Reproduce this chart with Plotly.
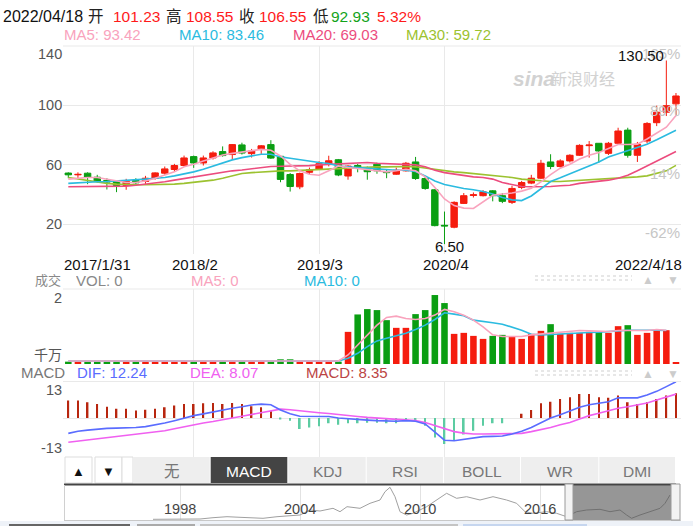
import plotly.graph_objects as go

W, H = 693, 526
FONT = "Liberation Sans, Arial, Noto Sans CJK SC, sans-serif"


def px(x):
    return x / W


def py(y):
    return 1 - y / H


# ---------------- data ----------------
months = [f"{y}/{m}" for y in range(2017, 2023) for m in range(1, 13)][:64]

opens = [54.5, 53.3, 54.4, 51.7, 49.5, 49.0, 46.1, 49.5, 48.8, 51.0,
         54.4, 56.9, 59.6, 65.6, 61.3, 64.7, 69.0, 67.0, 73.5, 67.6,
         70.8, 73.7, 65.8, 53.5, 45.2, 55.0, 57.2, 60.6, 63.5, 52.5,
         59.6, 56.6, 60.5, 55.5, 53.7, 56.0, 62.0, 50.8, 43.2, 19.2,
         17.9, 34.0, 39.4, 39.2, 42.5, 39.2, 34.7, 44.8, 47.7, 51.0,
         62.0, 58.9, 62.7, 66.5, 73.0, 74.6, 67.8, 74.6, 83.5, 66.5,
         76.1, 88.5, 95.6, 101.23]
closes = [53.3, 53.6, 51.7, 49.0, 48.4, 46.1, 49.0, 47.9, 51.0, 54.6,
          57.3, 59.6, 64.7, 61.3, 64.7, 68.1, 66.3, 73.7, 68.0, 69.4,
          72.9, 64.6, 50.2, 45.4, 54.2, 56.8, 60.8, 62.8, 53.2, 59.2,
          58.2, 55.4, 56.0, 54.8, 56.4, 61.1, 50.8, 44.1, 19.0, 18.8,
          34.7, 39.2, 39.8, 41.8, 39.2, 35.4, 44.1, 48.1, 51.0, 61.1,
          58.9, 62.7, 66.5, 73.2, 73.4, 69.4, 74.6, 82.9, 66.5, 73.9,
          88.0, 95.6, 100.0, 106.55]
highs = [55.0, 55.0, 55.0, 53.3, 51.0, 49.5, 50.6, 51.0, 52.6, 55.0,
         58.9, 60.7, 66.3, 66.3, 66.3, 69.2, 72.5, 74.1, 75.0, 70.8,
         73.4, 76.7, 66.3, 54.5, 54.8, 58.2, 62.5, 66.2, 64.0, 59.8,
         60.7, 58.9, 61.5, 57.0, 58.2, 62.0, 65.4, 52.2, 43.6, 28.5,
         35.4, 41.0, 41.4, 43.0, 43.0, 41.0, 45.9, 49.2, 53.3, 63.4,
         67.2, 63.8, 67.2, 73.9, 76.1, 74.6, 75.5, 85.1, 85.1, 75.5,
         88.9, 100.0, 130.5, 108.55]
lows = [51.0, 51.0, 47.0, 48.0, 43.4, 41.6, 43.2, 46.0, 47.2, 50.0,
        53.3, 55.7, 59.1, 58.0, 59.6, 63.6, 65.6, 63.4, 67.0, 65.0,
        67.4, 64.0, 48.3, 42.0, 43.6, 53.5, 56.6, 59.0, 52.4, 50.0,
        55.0, 50.0, 54.0, 51.0, 53.3, 55.5, 49.9, 43.2, 18.5, 6.5,
        17.2, 33.6, 38.0, 38.7, 35.4, 34.2, 33.6, 43.6, 47.0, 50.4,
        57.1, 58.2, 61.6, 66.1, 64.9, 61.6, 66.7, 73.9, 64.9, 62.0,
        74.6, 86.2, 93.0, 92.93]

ma5 = [50.4, 51.0, 51.5, 51.5, 50.4, 49.2, 48.1, 48.1, 49.2, 51.0,
       53.0, 55.3, 58.7, 60.4, 62.7, 64.9, 66.7, 67.8, 68.7, 69.9,
       70.5, 69.9, 66.1, 60.4, 56.0, 53.7, 53.0, 56.0, 59.3, 58.2,
       57.5, 57.1, 56.4, 55.3, 56.0, 57.1, 56.0, 51.9, 44.8, 37.0,
       32.5, 30.8, 30.6, 35.0, 39.5, 40.3, 41.0, 42.3, 44.3, 48.5,
       53.5, 57.8, 60.5, 64.0, 66.5, 68.3, 70.8, 73.8, 73.8, 74.0,
       77.5, 81.5, 85.5, 93.42]
ma10 = [47.5, 47.7, 48.1, 48.6, 48.8, 49.2, 49.2, 49.7, 50.4, 51.0,
        51.5, 52.6, 53.7, 55.3, 57.1, 59.3, 61.6, 63.4, 64.9, 66.1,
        67.2, 67.2, 65.4, 64.5, 63.4, 62.7, 61.6, 60.9, 59.3, 58.7,
        58.2, 57.5, 57.3, 56.6, 56.4, 56.4, 55.5, 52.6, 49.2, 46.8,
        45.2, 44.1, 43.2, 42.1, 40.3, 38.0, 36.4, 35.9, 39.0, 44.0,
        48.8, 51.3, 54.0, 56.8, 59.2, 62.0, 65.3, 67.5, 69.5, 71.5,
        74.0, 77.0, 80.0, 83.46]
ma20 = [45.2, 45.2, 45.2, 45.2, 45.4, 45.4, 45.7, 46.3, 47.0, 47.7,
        48.6, 49.7, 50.8, 51.5, 52.6, 53.7, 54.8, 56.0, 56.6, 57.5,
        58.2, 58.9, 59.1, 59.1, 59.3, 59.5, 60.0, 60.4, 60.9, 61.3,
        61.6, 61.6, 61.1, 60.9, 60.4, 60.4, 60.0, 58.7, 56.4, 54.8,
        53.7, 52.6, 51.9, 51.5, 50.4, 48.1, 46.6, 45.4, 45.2, 45.2,
        45.4, 45.9, 46.3, 47.5, 48.1, 48.8, 49.7, 51.0, 53.0, 56.0,
        59.3, 62.2, 65.4, 69.03]
ma30 = [51.5, 50.4, 49.2, 48.1, 47.5, 47.0, 46.6, 46.6, 46.6, 46.6,
        47.0, 47.0, 47.5, 48.1, 48.6, 49.7, 51.0, 52.6, 54.2, 54.8,
        55.3, 55.5, 56.0, 56.0, 56.4, 56.6, 56.9, 57.1, 57.5, 57.8,
        58.2, 58.7, 58.7, 58.7, 58.9, 58.9, 58.7, 57.8, 57.1, 56.0,
        55.3, 54.8, 54.2, 53.7, 53.0, 52.6, 51.5, 50.4, 49.7, 49.2,
        48.8, 48.8, 49.2, 49.7, 49.7, 50.4, 50.8, 51.0, 51.5, 51.9,
        52.6, 54.2, 56.0, 59.72]

# volume, unit: 千万
volumes = [0.07, 0.07, 0.07, 0.07, 0.07, 0.07, 0.07, 0.07, 0.07, 0.07,
           0.07, 0.07, 0.07, 0.07, 0.07, 0.07, 0.07, 0.07, 0.07, 0.07,
           0.07, 0.07, 0.14, 0.14, 0.07, 0.07, 0.07, 0.07, 0.07, 0.96,
           1.48, 1.64, 1.61, 1.31, 1.08, 1.08, 1.49, 1.61, 2.06, 1.82,
           0.90, 0.93, 0.84, 0.75, 0.84, 0.87, 0.81, 0.75, 0.90, 0.99,
           1.19, 0.90, 0.93, 0.93, 0.96, 0.96, 0.93, 1.13, 1.16, 0.87,
           0.93, 0.99, 1.01, 0.06]
vol_ma5 = [0.09, 0.09, 0.09, 0.09, 0.09, 0.09, 0.09, 0.09, 0.09, 0.09,
           0.09, 0.09, 0.09, 0.09, 0.09, 0.09, 0.09, 0.09, 0.09, 0.09,
           0.09, 0.09, 0.10, 0.10, 0.10, 0.10, 0.10, 0.09, 0.09, 0.27,
           0.57, 0.87, 1.16, 1.39, 1.43, 1.36, 1.33, 1.36, 1.46, 1.63,
           1.56, 1.46, 1.31, 1.11, 0.87, 0.82, 0.82, 0.82, 0.87, 0.90,
           0.92, 0.94, 0.99, 1.00, 0.99, 0.97, 0.97, 1.00, 1.01, 1.00,
           1.00, 1.03, 1.01, None]
vol_ma10 = [0.09, 0.09, 0.09, 0.09, 0.09, 0.09, 0.09, 0.09, 0.09, 0.09,
            0.09, 0.09, 0.09, 0.09, 0.09, 0.09, 0.09, 0.09, 0.09, 0.09,
            0.09, 0.09, 0.09, 0.10, 0.10, 0.10, 0.10, 0.10, 0.09, 0.17,
            0.32, 0.52, 0.69, 0.77, 0.84, 0.92, 1.03, 1.16, 1.33, 1.53,
            1.49, 1.44, 1.31, 1.26, 1.23, 1.19, 1.11, 1.01, 0.89, 0.87,
            0.88, 0.90, 0.92, 0.93, 0.94, 0.95, 0.96, 0.99, 1.01, 1.00,
            1.01, 1.01, 1.00, None]

macd_hist = [5.9, 5.9, 5.3, 4.7, 3.8, 3.1, 3.1, 2.5, 2.8, 3.1,
             3.6, 4.2, 4.7, 4.7, 5.0, 5.1, 4.7, 5.1, 4.7, 4.0,
             3.6, 2.3, -0.3, -0.9, -3.7, -3.2, -2.8, -1.8, -2.3, -1.8,
             -1.8, -1.6, -1.6, -1.8, -1.8, -0.9, -0.9, -2.6, -6.6, -8.8,
             -7.5, -5.6, -4.3, -2.6, -1.8, -1.8, 0.0, 1.4, 2.7, 5.0,
             5.5, 6.4, 7.0, 8.1, 8.1, 7.0, 6.8, 7.6, 5.3, 4.7,
             5.3, 6.4, 7.6, 8.35]
dif = [-5.2, -4.5, -4.1, -3.7, -3.5, -3.4, -3.4, -3.2, -2.9, -2.4,
       -1.7, -0.9, 0.0, 0.8, 1.4, 2.1, 2.7, 3.3, 3.8, 4.4,
       4.7, 4.5, 2.7, 1.4, 0.6, 0.5, 0.5, 0.5, 0.0, -0.3,
       -0.6, -0.7, -0.9, -1.1, -1.1, -0.9, -1.1, -2.0, -4.6, -7.5,
       -7.7, -7.3, -6.9, -6.3, -6.2, -6.1, -5.4, -4.5, -3.2, -1.5,
       0.0, 1.1, 2.3, 3.6, 4.5, 5.0, 5.5, 6.8, 6.7, 6.8,
       7.8, 9.0, 10.6, 12.24]
dea = [-8.2, -7.8, -7.5, -7.0, -6.6, -6.2, -5.8, -5.5, -5.2, -4.8,
       -4.3, -3.6, -2.9, -2.3, -1.7, -1.2, -0.7, 0.0, 0.6, 1.2,
       1.9, 2.6, 3.0, 2.8, 2.4, 2.1, 1.8, 1.5, 1.1, 0.8,
       0.5, 0.2, 0.0, -0.3, -0.6, -0.7, -0.9, -1.5, -2.6, -3.7,
       -4.6, -5.1, -5.4, -5.4, -5.4, -5.4, -5.4, -5.2, -4.6, -4.0,
       -3.2, -2.3, -1.5, -0.3, 0.8, 1.6, 2.5, 3.3, 3.8, 4.4,
       5.1, 6.1, 7.2, 8.07]

# overview (navigator) history line
nav_years = [1996.65, 1997.75, 1999.0, 1999.65, 2000.35, 2001.0, 2002.15, 2002.85,
             2003.35, 2004.0, 2004.5, 2005.0, 2005.65, 2006.0, 2006.35, 2007.0,
             2007.5, 2008.0, 2008.25, 2008.5, 2008.75, 2009.0, 2009.33, 2009.65,
             2010.33, 2011.0, 2011.33, 2011.83, 2012.33, 2013.0, 2013.65, 2014.33,
             2014.83, 2015.25, 2015.65, 2016.33, 2016.83, 2017.33, 2017.83, 2018.33,
             2019.0, 2019.5, 2020.0, 2020.33, 2020.58, 2021.0, 2021.5, 2022.0,
             2022.25, 2022.5]
nav_vals = [0.7, 0.5, 1.0, 2.3, 3.3, 2.7, 1.7, 3.3, 4.0, 5.0,
            10.0, 9.0, 11.7, 8.3, 13.3, 11.7, 16.7, 20.0, 28.3, 32.7,
            23.3, 8.3, 5.0, 6.7, 13.3, 21.7, 26.7, 21.7, 23.3, 20.0,
            23.3, 20.0, 16.7, 8.3, 6.7, 8.3, 6.7, 3.3, 8.3, 10.0,
            10.7, 8.3, 10.0, 5.0, 1.7, 5.0, 8.3, 11.7, 16.7, 25.0]
nav_ticks = [1998, 2004, 2010, 2016]

price_ticks = [140, 100, 60, 20]
pct_labels = ["165%", "89%", "14%", "-62%"]
date_labels = ["2017/1/31", "2018/2", "2019/3", "2020/4", "2022/4/18"]
grid_months = ["2018/2", "2019/3", "2020/4"]
tabs = ["无", "MACD", "KDJ", "RSI", "BOLL", "WR", "DMI"]

# ---------------- styles ----------------
RED = "#f51c0e"
GREEN = "#0a9e12"
C_MA5 = "#f9a3bd"
C_MA10 = "#2bbbe0"
C_MA20 = "#ec4c7e"
C_MA30 = "#9cc230"
C_DIF = "#5a6cff"
C_DEA = "#f060f0"
C_POS = "#b8260f"
C_NEG = "#5ccca2"
GRID = "#e9e9e9"

fig = go.Figure()

# price panel
fig.add_trace(go.Candlestick(
    x=months, open=opens, high=highs, low=lows, close=closes,
    increasing=dict(line=dict(color=RED, width=1), fillcolor=RED),
    decreasing=dict(line=dict(color=GREEN, width=1), fillcolor=GREEN),
    whiskerwidth=0, xaxis="x", yaxis="y", hoverinfo="skip"))
for series, col in [(ma30, C_MA30), (ma20, C_MA20), (ma10, C_MA10), (ma5, C_MA5)]:
    fig.add_trace(go.Scatter(x=months, y=series, mode="lines",
                             line=dict(color=col, width=1.6),
                             xaxis="x", yaxis="y", hoverinfo="skip"))

# volume panel
vol_colors = [RED if c >= o else GREEN for o, c in zip(opens, closes)]
fig.add_trace(go.Bar(x=months, y=volumes, width=0.68,
                     marker=dict(color=vol_colors, line=dict(width=0)),
                     xaxis="x2", yaxis="y2", hoverinfo="skip"))
for series, col in [(vol_ma10, C_MA10), (vol_ma5, C_MA5)]:
    fig.add_trace(go.Scatter(x=months, y=series, mode="lines",
                             line=dict(color=col, width=1.6),
                             xaxis="x2", yaxis="y2", hoverinfo="skip"))

# MACD panel
macd_colors = [C_POS if v >= 0 else C_NEG for v in macd_hist]
fig.add_trace(go.Bar(x=months, y=macd_hist, width=0.17,
                     marker=dict(color=macd_colors, line=dict(width=0)),
                     xaxis="x3", yaxis="y3", hoverinfo="skip"))
fig.add_trace(go.Scatter(x=months, y=dea, mode="lines", line=dict(color=C_DEA, width=1.6),
                         xaxis="x3", yaxis="y3", hoverinfo="skip"))
fig.add_trace(go.Scatter(x=months, y=dif, mode="lines", line=dict(color=C_DIF, width=1.6),
                         xaxis="x3", yaxis="y3", hoverinfo="skip"))

# navigator
fig.add_trace(go.Scatter(x=nav_years, y=nav_vals, mode="lines",
                         line=dict(color="#a0a0a0", width=1),
                         xaxis="x4", yaxis="y4", hoverinfo="skip"))

# ---------------- axes ----------------
dom_x = [px(63), px(681)]
xr = [-0.55, 63.52]


def xax(anchor):
    return dict(domain=dom_x, range=xr, type="category", anchor=anchor,
                showticklabels=False, ticks="", showgrid=True, gridcolor=GRID,
                gridwidth=1, tickvals=grid_months, zeroline=False, showline=False,
                fixedrange=True, categoryorder="array", categoryarray=months)


layout = dict(
    width=W, height=H, margin=dict(l=0, r=0, t=0, b=0),
    paper_bgcolor="white", plot_bgcolor="rgba(0,0,0,0)",
    showlegend=False, hovermode=False, barmode="overlay",
    boxgap=0.05, boxgroupgap=0.3,
    font=dict(family=FONT),
    xaxis=dict(**xax("y"), rangeslider=dict(visible=False)),
    xaxis2=dict(**xax("y2")),
    xaxis3=dict(**xax("y3")),
    yaxis=dict(domain=[py(253.75), py(46)], range=[0, 140.3], tickvals=price_ticks[1:],
               showticklabels=False, showgrid=True, gridcolor=GRID, zeroline=False,
               fixedrange=True),
    yaxis2=dict(domain=[py(364), py(289)], range=[0, 2.24], showticklabels=False,
                showgrid=False, zeroline=False, fixedrange=True),
    yaxis3=dict(domain=[py(456.5), py(381.5)], range=[-13.0, 12.33], tickvals=[0],
                showticklabels=False, showgrid=True, gridcolor=GRID, zeroline=False,
                fixedrange=True),
    xaxis4=dict(domain=[px(64), px(676)], range=[1992.2, 2022.8], anchor="y4",
                tickvals=nav_ticks, showticklabels=False, ticks="", showgrid=True,
                gridcolor="#e2e2e2", zeroline=False, fixedrange=True),
    yaxis4=dict(domain=[py(520), py(485)], range=[0, 35], showticklabels=False,
                showgrid=False, zeroline=False, fixedrange=True),
)
fig.update_layout(**layout)

# ---------------- shapes ----------------
shapes = []


def rect(x0, y0, x1, y1, fill, line=None, lw=0, layer="above"):
    shapes.append(dict(type="rect", xref="paper", yref="paper",
                       x0=px(x0), x1=px(x1), y0=py(y0), y1=py(y1),
                       fillcolor=fill, line=dict(color=line or fill, width=lw),
                       layer=layer))


def hline(x0, x1, y, color, width=1, dash="solid"):
    shapes.append(dict(type="line", xref="paper", yref="paper",
                       x0=px(x0), x1=px(x1), y0=py(y), y1=py(y),
                       line=dict(color=color, width=width, dash=dash)))


# panel top borders
hline(63, 681, 46, GRID)
hline(63, 681, 289, GRID)
hline(63, 681, 381.5, GRID)

# dotted handles in the sub-panel headers
for yy in (276, 280):
    hline(535, 632, yy, "#cfcfcf", 1.2, "dot")
    hline(535, 632, yy + 95, "#cfcfcf", 1.2, "dot")

# tab bar
rect(65, 457, 92, 483, "white", "#dddddd", 1)
rect(95, 457, 122, 483, "white", "#dddddd", 1)
rect(122, 457, 133, 483, "white", "#dddddd", 1)
tab_x = [133.3, 210.7, 288.3, 366.7, 444.0, 521.0, 599.3, 676.0]
for i, t in enumerate(tabs):
    rect(tab_x[i], 457, tab_x[i + 1] - 1, 483,
         "#444444" if t == "MACD" else "#eeeeee")
hline(64, 676, 484.5, "#444444", 2)

# navigator frame
hline(64, 681, 520.5, "#c8c8c8", 1)
shapes.append(dict(type="line", xref="paper", yref="paper", x0=px(64.5), x1=px(64.5),
                   y0=py(485), y1=py(520), line=dict(color="#d0d0d0", width=1)))
rect(573, 485, 671, 520, "rgba(80,80,80,0.6)")
rect(565, 484, 573, 520, "#f3f3f3", "#9a9a9a", 1)
rect(671, 484, 680, 520, "#f3f3f3", "#9a9a9a", 1)

# bottom strip
rect(0, 521, 693, 526, "#eef2f8")
rect(9, 524, 130, 526, "#666666")
rect(137, 524, 195, 526, "#aaaaaa")
rect(200, 524, 458, 526, "#c4c4c4")
rect(463, 524, 587, 526, "#c6d6ef")

fig.update_layout(shapes=shapes)

# ---------------- annotations ----------------
anns = []


def ann(text, x, y, size=14, color="#333", xanchor="left", yanchor="middle", **kw):
    anns.append(dict(text=text, x=px(x), y=py(y), xref="paper", yref="paper",
                     showarrow=False, xanchor=xanchor, yanchor=yanchor,
                     font=dict(size=size, color=color, family=FONT), **kw))


TIGHT = dict(borderpad=0, height=15)

# header line
ann("2022/04/18", 1, 16, 16, "#111")
ann("开", 85.5, 16, 15.5, "#222")
ann(f"{opens[-1]:.2f}", 110.5, 16, 15.5, "#ff1a1a")
ann("高", 163.5, 16, 15.5, "#222")
ann(f"{highs[-1]:.2f}", 183.5, 16, 15.5, "#ff1a1a")
ann("收", 236.5, 16, 15.5, "#222")
ann(f"{closes[-1]:.2f}", 256.5, 16, 15.5, "#ff1a1a")
ann("低", 310.5, 16, 15.5, "#222")
ann(f"{lows[-1]:.2f}", 328.5, 16, 15.5, "#13a31a")
ann("5.32%", 375.5, 16, 15.5, "#ff1a1a")

# MA legend line
ann(f"MA5: {ma5[-1]:.2f}", 61.5, 35, 15, C_MA5)
ann(f"MA10: {ma10[-1]:.2f}", 176.5, 35, 15, C_MA10)
ann(f"MA20: {ma20[-1]:.2f}", 290.5, 35, 15, C_MA20)
ann(f"MA30: {ma30[-1]:.2f}", 403.5, 35, 15, C_MA30)

# price axis labels
for v, yy in zip(price_ticks, [54, 105, 165, 224]):
    ann(str(v), 64, yy, 14.5, "#555", xanchor="right")
for t, yy in zip(pct_labels, [54, 111, 173, 232]):
    ann(t, 682, yy, 15, "#c6c6c6", xanchor="right")

# date labels
ann(date_labels[0], 62.5, 264.5, 15, "#111", **TIGHT)
ann(date_labels[1], 195, 264.5, 15, "#111", xanchor="center", **TIGHT)
ann(date_labels[2], 320, 264.5, 15, "#111", xanchor="center", **TIGHT)
ann(date_labels[3], 446, 264.5, 15, "#111", xanchor="center", **TIGHT)
ann(date_labels[4], 682.5, 264.5, 15, "#111", xanchor="right", **TIGHT)

# high / low markers
anns.append(dict(text=f"{highs[62]:.2f}", x=months[62], y=highs[62], xref="x", yref="y",
                 showarrow=False, xanchor="right", yanchor="middle", xshift=0, yshift=5,
                 font=dict(size=15, color="#111", family=FONT)))
anns.append(dict(text=f"{lows[39]:.2f}", x=months[39], y=lows[39], xref="x", yref="y",
                 showarrow=False, xanchor="center", yanchor="middle", xshift=5, yshift=-2.5,
                 font=dict(size=15, color="#111", family=FONT)))

# watermark
ann("<b><i>sina</i></b>", 511, 78, 21, "#d2d2d2")
ann("新浪财经", 549, 79, 16, "#d2d2d2")

# volume header
ann("成交", 34, 280, 13, "#888", **TIGHT)
ann("VOL: 0", 74.5, 280, 15, "#888", **TIGHT)
ann("MA5: 0", 189.5, 280, 15, C_MA5, **TIGHT)
ann("MA10: 0", 302.5, 280, 15, C_MA10, **TIGHT)
ann("▲", 648, 279.5, 12, "#cccccc", xanchor="center", borderpad=0)
ann("▼", 673, 279.5, 12, "#cccccc", xanchor="center", borderpad=0)
ann("2", 64, 297.5, 14.5, "#555", xanchor="right")
ann("千万", 64, 355, 14, "#555", xanchor="right")

# MACD header
ann("MACD", 18.5, 372.5, 15, "#777")
ann(f"DIF: {dif[-1]:.2f}", 74.5, 372.5, 15, C_DIF)
ann(f"DEA: {dea[-1]:.2f}", 187.5, 372.5, 15, C_DEA)
ann(f"MACD: {macd_hist[-1]:.2f}", 303.5, 372.5, 15, "#bb4444")
ann("▲", 648, 373.5, 12, "#cccccc", xanchor="center", borderpad=0)
ann("▼", 673, 373.5, 12, "#cccccc", xanchor="center", borderpad=0)
ann("13", 64, 390, 14.5, "#555", xanchor="right")
ann("-13", 64, 448, 14.5, "#555", xanchor="right")

# tab bar text
ann("▲", 78.5, 471, 13, "#111", xanchor="center")
ann("▼", 108.5, 471, 13, "#111", xanchor="center")
for i, t in enumerate(tabs):
    cx = (tab_x[i] + tab_x[i + 1] - 1) / 2
    ann(t, cx, 471, 15.5, "white" if t == "MACD" else "#777", xanchor="center")

# navigator labels
for yr in nav_ticks:
    ann(str(yr), 180 + (yr - 1998) * 20, 509, 14.5, "#444", xanchor="center")

fig.update_layout(annotations=anns)

fig.write_html("out.html", config={"displayModeBar": False},
               post_script="document.body.style.margin='0px';")
